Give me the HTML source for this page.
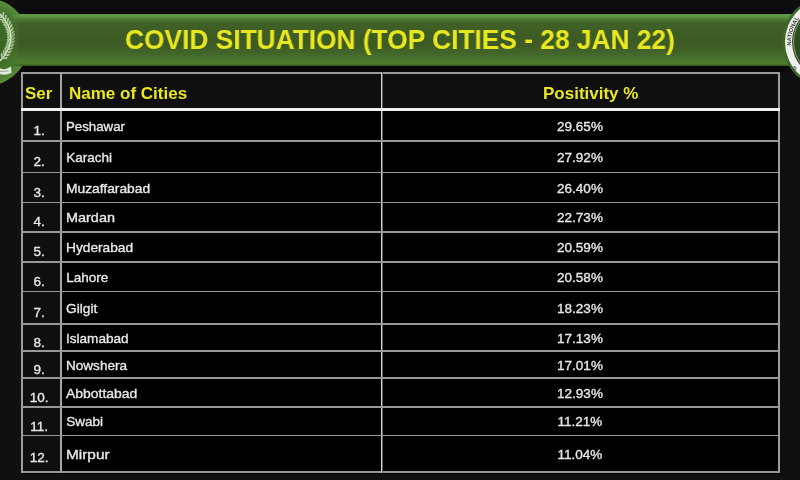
<!DOCTYPE html>
<html><head><meta charset="utf-8"><style>
html,body{margin:0;padding:0;}
body{width:800px;height:480px;overflow:hidden;position:relative;background:#101010;font-family:"Liberation Sans",sans-serif;}
.top{position:absolute;left:0;top:0;width:800px;height:14px;background:linear-gradient(to bottom,#0e0e0c 0%,#0e0e0c 45%,#0c0c15 60%,#0c0c15 75%,#110c0a 90%,#050505 100%);}
.gap{position:absolute;left:0;top:66px;width:800px;height:6px;background:#090909;}
.bar{position:absolute;left:11px;top:14px;width:789px;height:52px;-webkit-mask-image:linear-gradient(to right,transparent 0px,#000 9px);mask-image:linear-gradient(to right,transparent 0px,#000 9px);background:linear-gradient(to bottom,#578f40 0%,#62994a 3%,#5a8c42 6%,#4b7533 11%,#3f6027 19%,#3c5a24 58%,#42662a 76%,#4b772f 88%,#4f7c31 94%,#446c2b 98%,#2a4419 100%);}
.lsvg{position:absolute;left:0;top:0;will-change:transform;}
.rsvg{position:absolute;left:780px;top:0;will-change:transform;}
.title{position:absolute;left:125px;top:26.30px;font-size:28px;line-height:1;font-weight:bold;color:#e9e71f;white-space:nowrap;transform-origin:0 0;transform:scaleX(0.94);will-change:transform;}
.tbl{position:absolute;left:22px;top:73px;width:757px;height:401px;background:#000;}
.hdr{position:absolute;left:22px;top:73px;width:756px;height:35px;background:#0f0f0f;}
.c1{position:absolute;left:22px;top:110px;width:38px;height:361px;background:#0f0f0f;}
.b{position:absolute;background:#c4c4c4;}
.hl{position:absolute;left:22px;width:756px;height:1.8px;background:#979797;}
.t{position:absolute;font-size:13.5px;line-height:1;color:#e8e8e8;white-space:nowrap;letter-spacing:0px;-webkit-text-stroke:0.35px #e8e8e8;}
.txt{position:absolute;left:0;top:0;width:800px;height:480px;will-change:transform;}
.c{left:66.2px;transform-origin:0 0;}
.s{left:19.2px;width:40px;text-align:center;}
.p{left:480px;width:200px;text-align:center;}
.h{position:absolute;font-size:17px;line-height:1;font-weight:bold;color:#e9e71f;white-space:nowrap;top:85.21px;}
</style></head><body>
<div class="top"></div>
<div class="gap"></div>
<svg class="lsvg" width="40" height="92" viewBox="0 0 40 92">
<defs><radialGradient id="lg" cx="-14.5" cy="42" r="44" gradientUnits="userSpaceOnUse">
<stop offset="0" stop-color="#355c20"/><stop offset="0.55" stop-color="#3f6a27"/><stop offset="0.8" stop-color="#48782d"/><stop offset="0.94" stop-color="#528635"/><stop offset="1" stop-color="#5a903c"/></radialGradient>
<filter id="bl" x="-20%" y="-20%" width="140%" height="140%"><feGaussianBlur stdDeviation="0.35"/></filter></defs>
<circle cx="-14.5" cy="42" r="44" fill="url(#lg)"/>
<g filter="url(#bl)">
<path d="M0 14 Q22 37 0 61" stroke="#d4e2c8" stroke-width="1.6" fill="none"/>
<g fill="#c4d8b4" opacity="0.85"><ellipse cx="3.30" cy="14.17" rx="2.5" ry="0.95" transform="rotate(-88.2 3.30 14.17)"/><ellipse cx="-0.21" cy="17.14" rx="2.5" ry="0.95" transform="rotate(-172.2 -0.21 17.14)"/><ellipse cx="5.74" cy="17.12" rx="2.5" ry="0.95" transform="rotate(-83.9 5.74 17.12)"/><ellipse cx="2.01" cy="19.82" rx="2.5" ry="0.95" transform="rotate(-167.9 2.01 19.82)"/><ellipse cx="7.85" cy="20.10" rx="2.5" ry="0.95" transform="rotate(-79.1 7.85 20.10)"/><ellipse cx="3.91" cy="22.48" rx="2.5" ry="0.95" transform="rotate(-163.1 3.91 22.48)"/><ellipse cx="9.63" cy="23.12" rx="2.5" ry="0.95" transform="rotate(-73.8 9.63 23.12)"/><ellipse cx="5.48" cy="25.12" rx="2.5" ry="0.95" transform="rotate(-157.8 5.48 25.12)"/><ellipse cx="11.07" cy="26.18" rx="2.5" ry="0.95" transform="rotate(-68.0 11.07 26.18)"/><ellipse cx="6.74" cy="27.75" rx="2.5" ry="0.95" transform="rotate(-152.0 6.74 27.75)"/><ellipse cx="12.17" cy="29.29" rx="2.5" ry="0.95" transform="rotate(-61.8 12.17 29.29)"/><ellipse cx="7.70" cy="30.38" rx="2.5" ry="0.95" transform="rotate(-145.7 7.70 30.38)"/><ellipse cx="12.91" cy="32.44" rx="2.5" ry="0.95" transform="rotate(-55.2 12.91 32.44)"/><ellipse cx="8.35" cy="33.02" rx="2.5" ry="0.95" transform="rotate(-139.2 8.35 33.02)"/><ellipse cx="13.28" cy="35.63" rx="2.5" ry="0.95" transform="rotate(-48.5 13.28 35.63)"/><ellipse cx="8.69" cy="35.67" rx="2.5" ry="0.95" transform="rotate(-132.5 8.69 35.67)"/><ellipse cx="13.29" cy="38.85" rx="2.5" ry="0.95" transform="rotate(-41.9 13.29 38.85)"/><ellipse cx="8.71" cy="38.35" rx="2.5" ry="0.95" transform="rotate(-125.9 8.71 38.35)"/><ellipse cx="12.91" cy="42.08" rx="2.5" ry="0.95" transform="rotate(-35.4 12.91 42.08)"/><ellipse cx="8.42" cy="41.08" rx="2.5" ry="0.95" transform="rotate(-119.4 8.42 41.08)"/><ellipse cx="12.15" cy="45.32" rx="2.5" ry="0.95" transform="rotate(-29.3 12.15 45.32)"/><ellipse cx="7.79" cy="43.84" rx="2.5" ry="0.95" transform="rotate(-113.3 7.79 43.84)"/><ellipse cx="11.01" cy="48.56" rx="2.5" ry="0.95" transform="rotate(-23.6 11.01 48.56)"/><ellipse cx="6.82" cy="46.65" rx="2.5" ry="0.95" transform="rotate(-107.6 6.82 46.65)"/><ellipse cx="9.49" cy="51.78" rx="2.5" ry="0.95" transform="rotate(-18.4 9.49 51.78)"/><ellipse cx="5.49" cy="49.51" rx="2.5" ry="0.95" transform="rotate(-102.4 5.49 49.51)"/><ellipse cx="7.61" cy="54.99" rx="2.5" ry="0.95" transform="rotate(-13.7 7.61 54.99)"/><ellipse cx="3.81" cy="52.40" rx="2.5" ry="0.95" transform="rotate(-97.7 3.81 52.40)"/><ellipse cx="5.37" cy="58.18" rx="2.5" ry="0.95" transform="rotate(-9.5 5.37 58.18)"/><ellipse cx="1.77" cy="55.32" rx="2.5" ry="0.95" transform="rotate(-93.5 1.77 55.32)"/></g>
<path d="M-1 68 Q5 70.5 9 67.5 Q11.5 65.5 11.3 69 L11.5 72.8 Q6 75.8 -1 74 Z" fill="#e0e8d8"/>
<path d="M0.5 71.5 L9 71" stroke="#6a7a60" stroke-width="0.9" stroke-dasharray="1.3 0.7"/>
</g>
</svg>
<div class="bar"></div>
<svg class="rsvg" width="20" height="92" viewBox="780 0 20 92">
<defs><path id="rp" d="M793.7 55.7 A37.8 37.8 0 0 1 829 4.2"/><path id="rp2" d="M829 80.5 A38.5 38.5 0 0 1 790.5 42"/></defs>
<circle cx="829" cy="42" r="46.5" fill="#3e6a27"/>
<circle cx="829" cy="42" r="44" fill="#efefed"/>
<circle cx="829" cy="42" r="37" fill="#2e4a21"/>
<circle cx="829" cy="42" r="35.5" fill="none" stroke="#c8d4c0" stroke-width="0.6"/>
<g fill="#3a3a3a" font-family="Liberation Sans" font-size="5.7" font-weight="bold">
<text><textPath href="#rp" startOffset="10.5">NATIONAL</textPath></text>
</g>
<g fill="#3a3a3a" font-family="Liberation Sans" font-size="5.4" font-weight="bold">
<text transform="translate(797.2,68.8) rotate(-128)">G</text>
</g>
</svg>
<div class="title">COVID SITUATION (TOP CITIES - 28 JAN 22)</div>
<div class="tbl"></div>
<div class="hdr"></div>
<div class="c1"></div>
<div class="b" style="left:21px;top:72.2px;width:758.5px;height:1.8px;background:#9c9c9c"></div>
<div class="b" style="left:21px;top:471px;width:758.5px;height:2px;background:#979797"></div>
<div class="b" style="left:21px;top:72.2px;width:1.6px;height:400.8px;background:#9c9c9c"></div>
<div class="b" style="left:778px;top:72.2px;width:1.6px;height:400.8px;background:#9c9c9c"></div>
<div class="b" style="left:60px;top:72.2px;width:2px;height:400.8px;background:#a5a5a5"></div>
<div class="b" style="left:381px;top:72px;width:1px;height:401px;background:#d0d0d0"></div>
<div class="b" style="left:382px;top:72px;width:1px;height:401px;background:#5e5e5e"></div>
<div class="b" style="left:21px;top:107.6px;width:758.5px;height:3px;background:#f2f2f2"></div>
<div class="hl" style="top:140.10px"></div><div class="hl" style="top:171.60px"></div><div class="hl" style="top:201.60px"></div><div class="hl" style="top:231.10px"></div><div class="hl" style="top:261.10px"></div><div class="hl" style="top:290.60px"></div><div class="hl" style="top:323.10px"></div><div class="hl" style="top:350.10px"></div><div class="hl" style="top:377.10px"></div><div class="hl" style="top:406.10px"></div><div class="hl" style="top:434.60px"></div>
<div class="txt">
<div class="h" style="left:25px">Ser</div>
<div class="h" style="left:69px">Name of Cities</div>
<div class="h" style="left:543px">Positivity %</div>
</div>
<div class="txt"><div class="t c" style="top:120.17px;transform:scaleX(0.9828)">Peshawar</div><div class="t s" style="top:123.97px">1.</div><div class="t p" style="top:120.17px">29.65%</div><div class="t c" style="top:151.07px;transform:scaleX(1.0000)">Karachi</div><div class="t s" style="top:155.17px">2.</div><div class="t p" style="top:151.07px">27.92%</div><div class="t c" style="top:182.07px;transform:scaleX(1.0219)">Muzaffarabad</div><div class="t s" style="top:185.87px">3.</div><div class="t p" style="top:182.07px">26.40%</div><div class="t c" style="top:211.27px;transform:scaleX(1.0698)">Mardan</div><div class="t s" style="top:215.37px">4.</div><div class="t p" style="top:211.27px">22.73%</div><div class="t c" style="top:240.62px;transform:scaleX(1.0159)">Hyderabad</div><div class="t s" style="top:245.17px">5.</div><div class="t p" style="top:240.62px">20.59%</div><div class="t c" style="top:271.07px;transform:scaleX(1.0000)">Lahore</div><div class="t s" style="top:274.77px">6.</div><div class="t p" style="top:271.07px">20.58%</div><div class="t c" style="top:302.27px;transform:scaleX(1.0167)">Gilgit</div><div class="t s" style="top:306.47px">7.</div><div class="t p" style="top:302.27px">18.23%</div><div class="t c" style="top:331.87px;transform:scaleX(1.0050)">Islamabad</div><div class="t s" style="top:335.62px">8.</div><div class="t p" style="top:331.87px">17.13%</div><div class="t c" style="top:359.17px;transform:scaleX(1.0042)">Nowshera</div><div class="t s" style="top:362.67px">9.</div><div class="t p" style="top:359.17px">17.01%</div><div class="t c" style="top:386.87px;transform:scaleX(1.0336)">Abbottabad</div><div class="t s" style="top:391.07px">10.</div><div class="t p" style="top:386.87px">12.93%</div><div class="t c" style="top:415.37px;transform:scaleX(1.0000)">Swabi</div><div class="t s" style="top:420.17px">11.</div><div class="t p" style="top:415.37px">11.21%</div><div class="t c" style="top:447.67px;transform:scaleX(1.1389)">Mirpur</div><div class="t s" style="top:450.87px">12.</div><div class="t p" style="top:447.67px">11.04%</div></div>
</body></html>
